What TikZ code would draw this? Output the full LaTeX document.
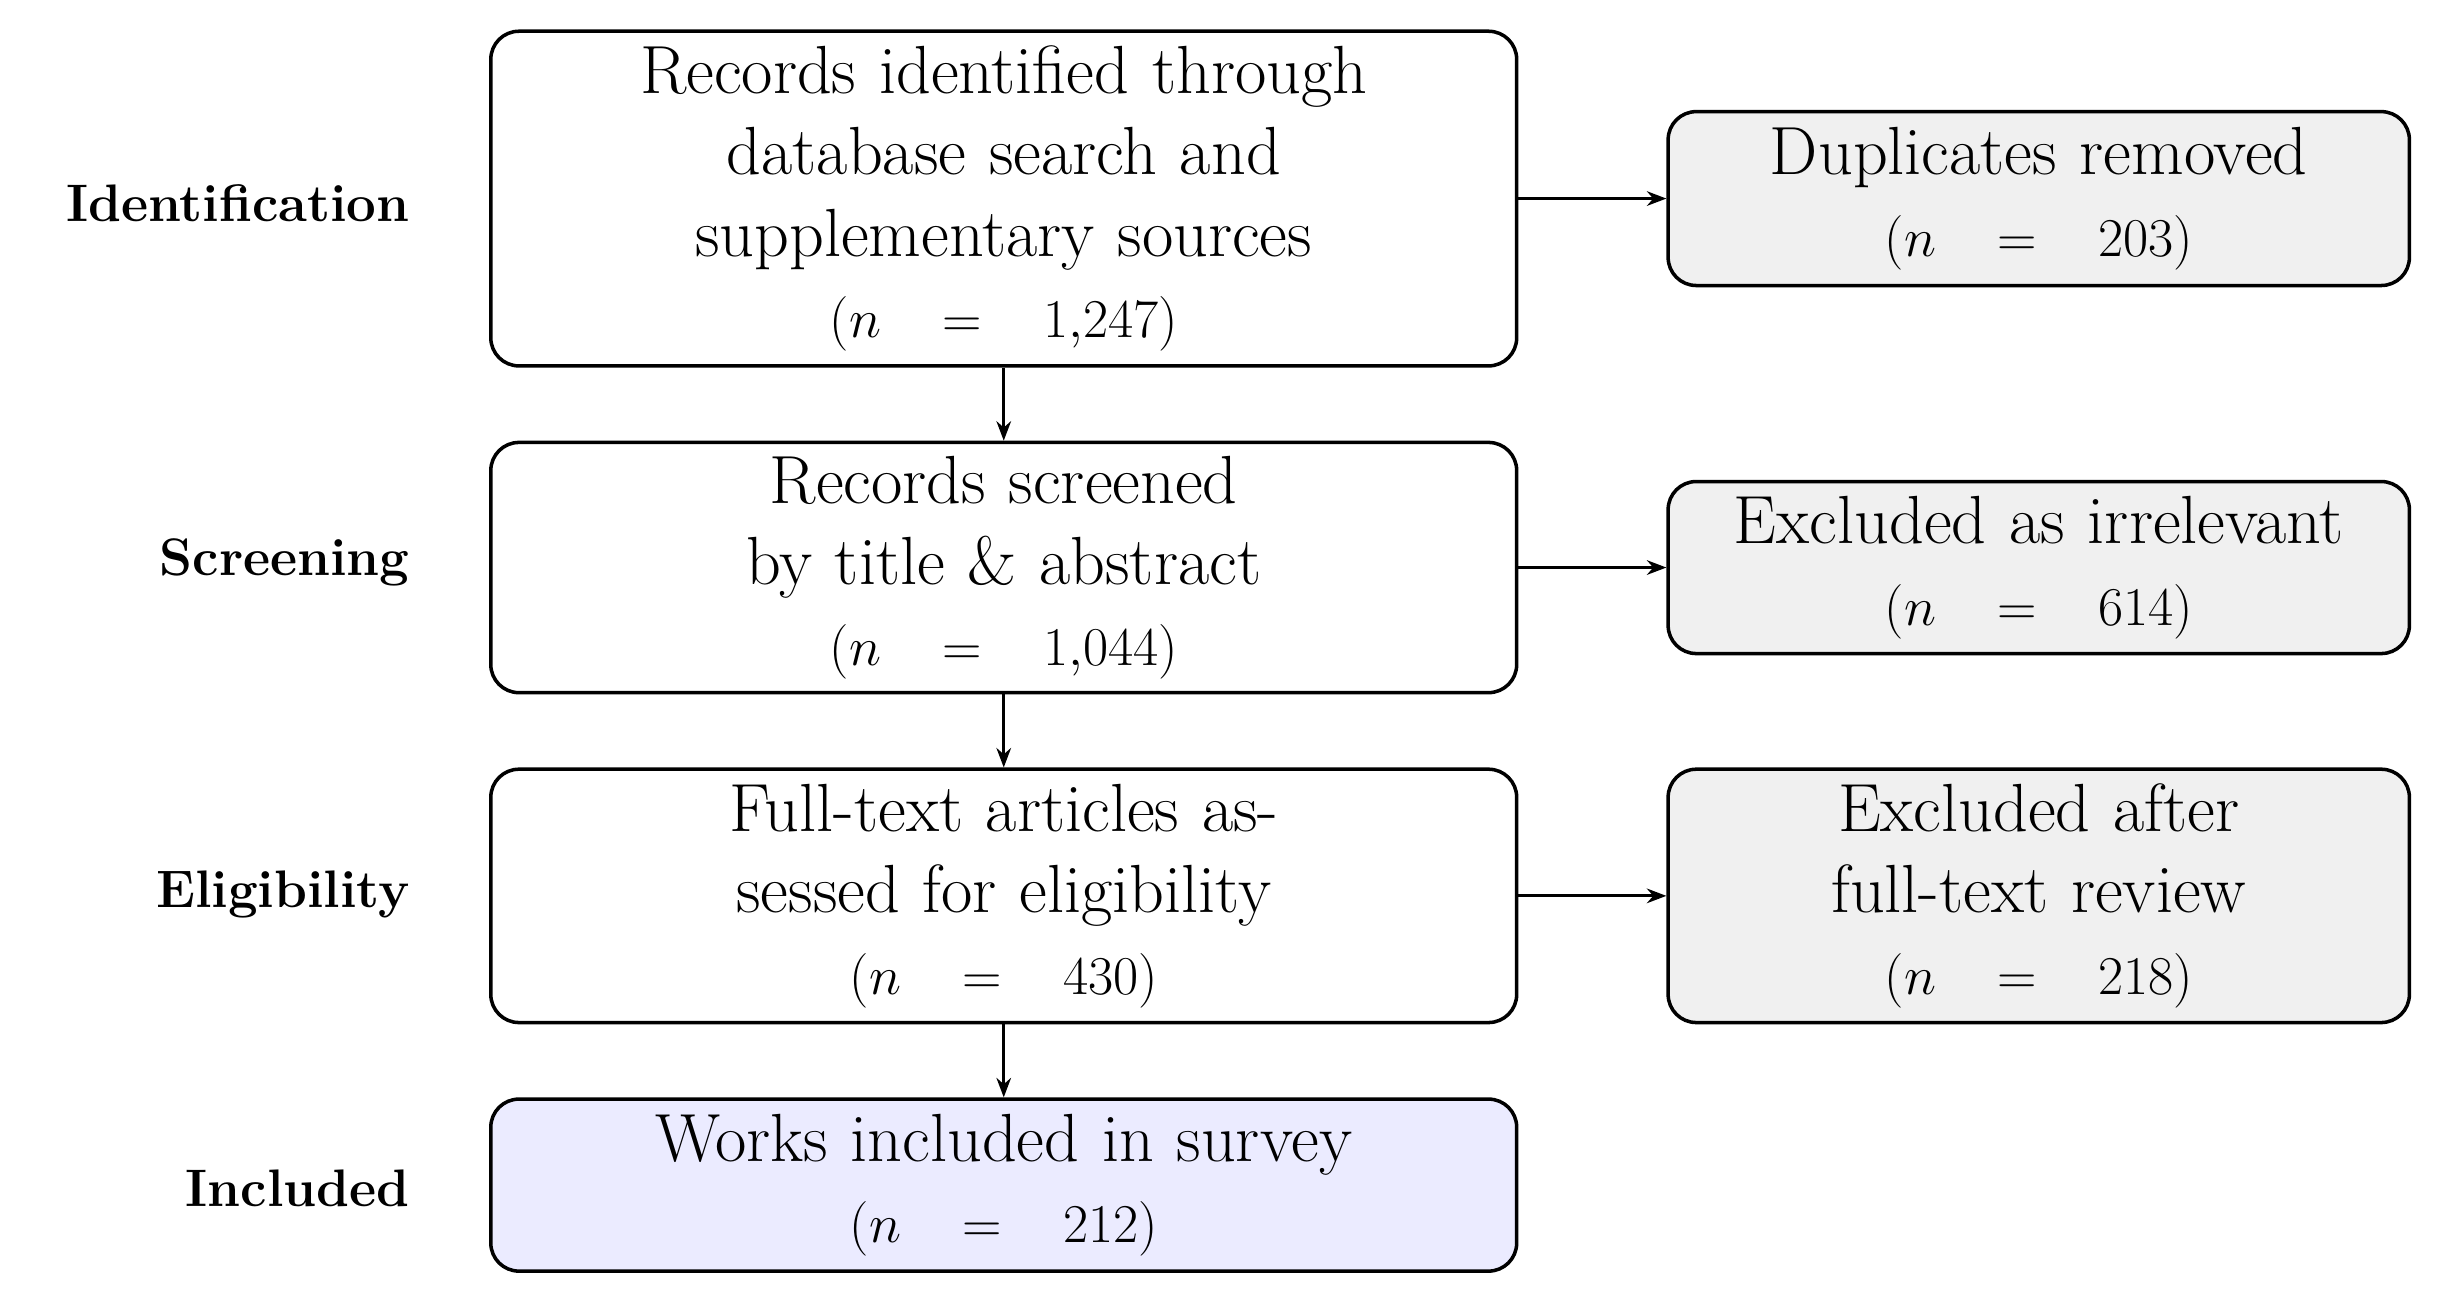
\documentclass[tikz,border=0pt]{standalone}
\usetikzlibrary{positioning,arrows.meta}
\newcommand{\eqgap}{\hspace{0.9em}}
\begin{document}
\begin{tikzpicture}[
    x=0.025cm, y=-0.025cm,
    >=Stealth,
    % Styles
    stage/.style={% main column boxes
        rectangle,
        rounded corners=0.45cm,
        draw,
        line width=1.6pt,
        minimum width=16.4cm,
        text width=16cm,
        align=center,
        font=\fontsize{31}{37}\selectfont,
        },
    side/.style={% excluded records
        stage,
        minimum width=11.85cm,
        text width=11.5cm,
        fill=gray!12,
        },
    phase/.style={% left phase labels
        anchor=east,
        font=\fontsize{24}{28}\selectfont\bfseries,
        },
    link/.style={->, line width=1.3pt},
    ]

    \useasboundingbox (0,0) rectangle (1560,830);

    % Main column
    \node [stage, minimum height=5.35cm] (ident) at (642,127)
        {Records identified through\\ database search and\\ supplementary sources\\ $(n$\eqgap$=$\eqgap$1{,}247)$};
    \node [stage, minimum height=4cm] (screen) at (642,363)
        {Records screened\\ by title \& abstract\\ $(n$\eqgap$=$\eqgap$1{,}044)$};
    \node [stage, minimum height=4.05cm] (elig) at (642,573)
        {Full-text articles as-\\ sessed for eligibility\\ $(n$\eqgap$=$\eqgap$430)$};
    \node [stage, minimum height=2.75cm, fill=blue!8] (incl) at (642,758)
        {Works included in survey\\ $(n$\eqgap$=$\eqgap$212)$};

    % Side boxes
    \node [side, minimum height=2.78cm] (dup) at (1304,127)
        {Duplicates removed\\ $(n$\eqgap$=$\eqgap$203)$};
    \node [side, minimum height=2.75cm] (irr) at (1304,363)
        {Excluded as irrelevant\\ $(n$\eqgap$=$\eqgap$614)$};
    \node [side, minimum height=4.05cm] (full) at (1304,573)
        {Excluded after\\ full-text review\\ $(n$\eqgap$=$\eqgap$218)$};

    % Phase labels
    \node [phase] (lident)  at (267,130) {Identification};
    \node [phase] (lscreen) at (267,360) {Screening};
    \node [phase] (lelig)   at (267,572) {Eligibility};
    \node [phase] (lincl)   at (267,760) {Included};

    % Arrows
    \draw [link] (ident) -- (screen);
    \draw [link] (screen) -- (elig);
    \draw [link] (elig) -- (incl);
    \draw [link] (ident.east |- dup) -- (dup);
    \draw [link] (screen.east |- irr) -- (irr);
    \draw [link] (elig) -- (full);

\end{tikzpicture}
\end{document}
